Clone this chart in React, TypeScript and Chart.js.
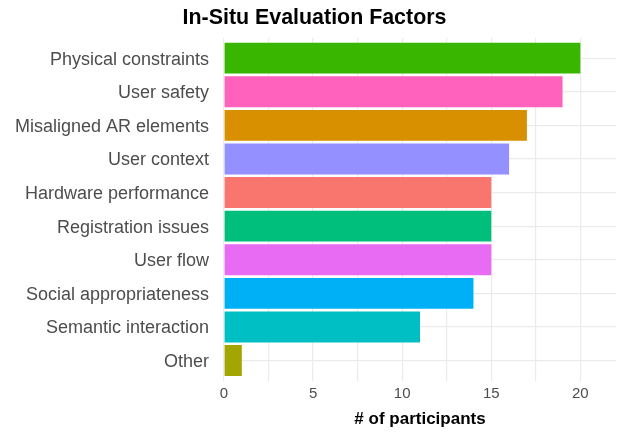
import React, { useEffect, useRef } from "react";
import { Chart, registerables } from "chart.js";

Chart.register(...registerables);

const categories = [
  "Physical constraints",
  "User safety",
  "Misaligned AR elements",
  "User context",
  "Hardware performance",
  "Registration issues",
  "User flow",
  "Social appropriateness",
  "Semantic interaction",
  "Other",
];
const participants = [20, 19, 17, 16, 15, 15, 15, 14, 11, 1];
const barColors = [
  "#39B600",
  "#FF62BC",
  "#D89000",
  "#9590FF",
  "#F8766D",
  "#00BF7D",
  "#E76BF3",
  "#00B0F6",
  "#00BFC4",
  "#A3A500",
];
const xTicks = [0, 2.5, 5, 7.5, 10, 12.5, 15, 17.5, 20];
const xLabeled = [0, 5, 10, 15, 20];
const titleText = "In-Situ Evaluation Factors";
const xTitle = "# of participants";

const FONT = "'Liberation Sans', Arial, Helvetica, sans-serif";

export default function App() {
  const ref = useRef<HTMLCanvasElement | null>(null);

  useEffect(() => {
    if (!ref.current) return;
    const titlePlugin = {
      id: "customTitle",
      afterDraw(chart: any) {
        const ctx = chart.ctx;
        ctx.save();
        ctx.font = `bold 21.4px ${FONT}`;
        ctx.fillStyle = "#000000";
        ctx.textAlign = "center";
        ctx.textBaseline = "alphabetic";
        ctx.fillText(titleText, 314.5, 24);
        ctx.restore();
      },
    };
    const chart = new Chart(ref.current, {
      type: "bar",
      data: {
        datasets: [
          {
            data: participants.map((v, i) => ({ x: v, y: i })),
            backgroundColor: barColors,
            borderWidth: 0,
            barPercentage: 0.92,
            categoryPercentage: 1.0,
          },
        ],
      },
      options: {
        indexAxis: "y",
        animation: false,
        responsive: false,
        maintainAspectRatio: false,
        layout: { padding: { top: 38, right: 3, bottom: 0, left: 0 } },
        plugins: {
          legend: { display: false },
          tooltip: { enabled: false },
          title: { display: false },
        },
        scales: {
          x: {
            type: "linear",
            position: "bottom",
            min: 0,
            max: 22,
            offset: false,
            afterBuildTicks: (scale: any) => {
              scale.ticks = xTicks.map((v) => ({ value: v }));
            },
            afterFit: (scale: any) => {
              scale.height = 51.3;
            },
            grid: {
              color: "#ebebeb",
              lineWidth: 1.2,
              drawTicks: false,
              offset: false,
            },
            border: { display: false },
            ticks: {
              autoSkip: false,
              maxRotation: 0,
              padding: 4,
              color: "#4d4d4d",
              font: { family: FONT, size: 15 },
              callback: (v: any) => (xLabeled.includes(Number(v)) ? String(v) : ""),
            },
            title: {
              display: true,
              text: xTitle,
              color: "#000000",
              font: { family: FONT, size: 17, weight: "bold", lineHeight: 1.2 },
              padding: { top: 0, bottom: 2 },
            },
          },
          y: {
            type: "linear",
            reverse: true,
            offset: false,
            min: -0.6,
            max: categories.length - 1 + 0.6,
            afterBuildTicks: (scale: any) => {
              scale.ticks = categories.map((_, i) => ({ value: i }));
            },
            afterFit: (scale: any) => {
              scale.width = 224;
            },
            grid: {
              color: "#ebebeb",
              lineWidth: 1.2,
              drawTicks: false,
              offset: false,
            },
            border: { display: false },
            ticks: {
              autoSkip: false,
              padding: 15,
              labelOffset: 1.5,
              color: "#4d4d4d",
              font: { family: FONT, size: 18 },
              callback: (v: any) => categories[Math.round(Number(v))] ?? "",
            },
          },
        },
      },
      plugins: [titlePlugin],
    } as any);
    return () => chart.destroy();
  }, []);

  return (
    <div style={{ position: "fixed", left: 0, top: 0, width: 619, height: 432, background: "#fff" }}>
      <canvas ref={ref} width={619} height={432} style={{ width: 619, height: 432 }} />
    </div>
  );
}
